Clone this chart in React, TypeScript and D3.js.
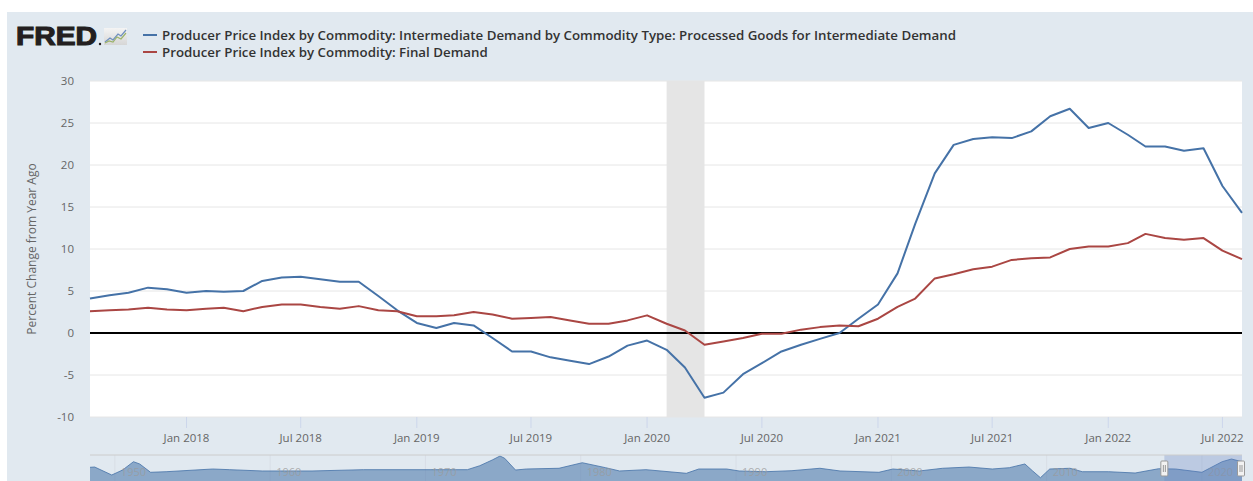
import React from "react";
import * as d3 from "d3";

// monthly observations, Aug 2017 .. Aug 2022
const startMonth = new Date(2017, 7, 1);
const endMonth = new Date(2022, 7, 1);
const months = d3.timeMonth.range(startMonth, d3.timeMonth.offset(endMonth, 1));

const intermediateGoods = [
  4.1, 4.5, 4.8, 5.4, 5.2,
  4.8, 5.0, 4.9, 5.0, 6.2, 6.6, 6.7, 6.4, 6.1, 6.1, 4.4, 2.7,
  1.2, 0.6, 1.2, 0.9, -0.6, -2.2, -2.2, -2.9, -3.3, -3.7, -2.8, -1.5,
  -0.9, -2.0, -4.1, -7.7, -7.1, -4.9, -3.6, -2.2, -1.4, -0.7, 0.0, 1.7,
  3.4, 7.1, 13.0, 19.0, 22.4, 23.1, 23.3, 23.2, 24.0, 25.8, 26.7, 24.4,
  25.0, 23.6, 22.2, 22.2, 21.7, 22.0, 17.5, 14.3,
];

const finalDemand = [
  2.6, 2.7, 2.8, 3.0, 2.8,
  2.7, 2.9, 3.0, 2.6, 3.1, 3.4, 3.4, 3.1, 2.9, 3.2, 2.7, 2.6,
  2.0, 2.0, 2.1, 2.5, 2.2, 1.7, 1.8, 1.9, 1.5, 1.1, 1.1, 1.5,
  2.1, 1.1, 0.3, -1.4, -1.0, -0.6, -0.1, -0.1, 0.4, 0.7, 0.9, 0.8,
  1.7, 3.1, 4.1, 6.5, 7.0, 7.6, 7.9, 8.7, 8.9, 9.0, 10.0, 10.3,
  10.3, 10.7, 11.8, 11.3, 11.1, 11.3, 9.8, 8.8,
];

const seriesNames = [
  "Producer Price Index by Commodity: Intermediate Demand by Commodity Type: Processed Goods for Intermediate Demand",
  "Producer Price Index by Commodity: Final Demand",
];
const seriesColors = ["#4572a7", "#aa4643"];

const yTicks = [-10, -5, 0, 5, 10, 15, 20, 25, 30];
const xTickDates = [
  new Date(2018, 0, 1), new Date(2018, 6, 1), new Date(2019, 0, 1), new Date(2019, 6, 1),
  new Date(2020, 0, 1), new Date(2020, 6, 1), new Date(2021, 0, 1), new Date(2021, 6, 1),
  new Date(2022, 0, 1), new Date(2022, 6, 1),
];
const xTickLabels = [
  "Jan 2018", "Jul 2018", "Jan 2019", "Jul 2019", "Jan 2020",
  "Jul 2020", "Jan 2021", "Jul 2021", "Jan 2022", "Jul 2022",
];
const recession = [new Date(2020, 1, 1), new Date(2020, 3, 1)];

// navigator: full history of the first series (rough read)
const navYears = [
  1948.4, 1948.7, 1949.8, 1950.5, 1951.2, 1951.6, 1952.3, 1953.3, 1956.3, 1957.4, 1959.5,
  1962.7, 1966.0, 1970.3, 1972.7, 1973.5, 1974.3, 1974.8, 1975.1, 1975.8, 1976.5, 1978.6,
  1980.1, 1981.6, 1982.5, 1984.2, 1986.8, 1987.6, 1989.4, 1990.2, 1991.9, 1993.6, 1995.4,
  1996.7, 1999.2, 2000.1, 2001.8, 2003.3, 2005.0, 2006.5, 2007.6, 2008.6, 2009.1, 2009.6,
  2010.2, 2011.5, 2012.3, 2014.0, 2015.7, 2017.2, 2018.3, 2020.0, 2021.3, 2021.9, 2022.58,
];
const navValues = [
  9.5, 10.1, -6.4, 3.9, 21.1, 16.4, -0.8, 0.4, 6.0, 4.6, 1.9,
  1.9, 4.6, 4.6, 4.6, 12.8, 24.6, 32.9, 28.2, 3.9, 6.0, 7.5,
  19.0, 8.7, 1.9, 4.6, -2.9, 6.0, 6.0, 1.9, 0.4, 2.5, 7.5,
  1.9, -0.8, 6.0, 1.9, 7.5, 10.1, 6.0, 8.7, 16.4, 1.9, -12.0,
  6.0, 7.5, 0.4, 0.4, -2.3, 6.5, 6.0, -0.8, 21.1, 26.7, 21.1,
];
const navDecades = [1950, 1960, 1970, 1980, 1990, 2000, 2010, 2020];

const W = 1253;
const H = 481;
const plot = { left: 90, right: 1242, top: 81, bottom: 417 };
const nav = { top: 455, bottom: 481 };
const font = "'Open Sans', 'DejaVu Sans', sans-serif";

export default function App() {
  const x = d3.scaleTime().domain([startMonth, endMonth]).range([plot.left, plot.right]);
  const y = d3.scaleLinear().domain([-10, 30]).range([plot.bottom, plot.top]);
  const navX = d3.scaleLinear().domain([1948.4, 2022.58]).range([plot.left, plot.right]);
  const navY = d3.scaleLinear().domain([-12, 26.7]).range([477.7, 459]);

  const line = d3
    .line<number>()
    .x((_, i) => x(months[i]))
    .y((v) => y(v));

  const navArea = d3
    .area<number>()
    .x((_, i) => navX(navYears[i]))
    .y0(nav.bottom + 20)
    .y1((v) => navY(v));
  const navLine = d3
    .line<number>()
    .x((_, i) => navX(navYears[i]))
    .y((v) => navY(v));

  const selStart = navX(2017.58);
  const selEnd = plot.right;

  return (
    <svg
      width={W}
      height={H}
      style={{ position: "absolute", left: 0, top: 0, display: "block" }}
      fontFamily={font}
    >
      <defs>
        <clipPath id="navClip">
          <rect x={plot.left} y={nav.top} width={plot.right - plot.left} height={nav.bottom - nav.top} />
        </clipPath>
        <linearGradient id="iconBg" x1="0" y1="0" x2="0" y2="1">
          <stop offset="0" stopColor="#f4f4f4" />
          <stop offset="1" stopColor="#d6d6d6" />
        </linearGradient>
      </defs>

      <rect x={0} y={0} width={W} height={H} fill="#ffffff" />
      <rect x={7} y={12} width={W - 7} height={H - 12} fill="#e1e9f0" />

      {/* logo */}
      <text
        x={16}
        y={45}
        fontFamily="'Liberation Sans', Arial, sans-serif"
        fontWeight={700}
        fontSize={26}
        fill="#231f20"
        stroke="#231f20"
        strokeWidth={1.1}
        textLength={81}
        lengthAdjust="spacingAndGlyphs"
      >
        FRED
      </text>
      <circle cx={100} cy={44} r={1.2} fill="#231f20" />
      <rect x={104} y={28} width={23} height={17} fill="url(#iconBg)" />
      <path d="M105,42 L110,38 L113,40 L118,34 L121,36 L126,30" fill="none" stroke="#6f8fbf" strokeWidth={1.2} />
      <path d="M105,43 L109,41 L113,42 L117,37 L121,39 L126,33" fill="none" stroke="#9bb36a" strokeWidth={1.2} />

      {/* legend */}
      {seriesNames.map((name, i) => (
        <g key={name}>
          <line x1={143} x2={157} y1={35 + i * 17} y2={35 + i * 17} stroke={seriesColors[i]} strokeWidth={2} />
          <text x={162} y={39.5 + i * 17} fontSize={13.3} fontWeight={600} fill="#333333">
            {name}
          </text>
        </g>
      ))}

      {/* plot area */}
      <rect x={plot.left} y={plot.top} width={plot.right - plot.left} height={plot.bottom - plot.top} fill="#ffffff" />
      {yTicks.map((t) => (
        <line key={t} x1={plot.left} x2={plot.right} y1={y(t)} y2={y(t)} stroke="#e6e6e6" strokeWidth={1} />
      ))}
      <rect
        x={x(recession[0])}
        y={plot.top}
        width={x(recession[1]) - x(recession[0])}
        height={plot.bottom - plot.top}
        fill="#e5e5e5"
      />
      <line x1={plot.left} x2={plot.right} y1={y(0)} y2={y(0)} stroke="#000000" strokeWidth={2} />

      {[intermediateGoods, finalDemand].map((s, i) => (
        <path key={i} d={line(s) || ""} fill="none" stroke={seriesColors[i]} strokeWidth={2} strokeLinejoin="round" />
      ))}

      {/* y axis */}
      {yTicks.map((t) => (
        <text key={t} x={74} y={y(t) + 4} textAnchor="end" fontSize={11.5} fill="#666666">
          {t}
        </text>
      ))}
      <text
        transform={`translate(36,${(plot.top + plot.bottom) / 2}) rotate(-90)`}
        textAnchor="middle"
        fontSize={12}
        fill="#666666"
      >
        Percent Change from Year Ago
      </text>

      {/* x axis */}
      {xTickDates.map((d, i) => (
        <g key={xTickLabels[i]}>
          <line x1={x(d)} x2={x(d)} y1={plot.bottom} y2={plot.bottom + 11} stroke="#ccd6eb" strokeWidth={1} />
          <text x={x(d)} y={442} textAnchor="middle" fontSize={11.5} fill="#666666">
            {xTickLabels[i]}
          </text>
        </g>
      ))}

      {/* navigator */}
      <g clipPath="url(#navClip)">
        {navDecades.map((yr) => (
          <line key={yr} x1={navX(yr)} x2={navX(yr)} y1={nav.top} y2={nav.bottom} stroke="#d8dee6" strokeWidth={1} />
        ))}
        <path d={navArea(navValues) || ""} fill="#4572a7" fillOpacity={0.55} />
        <path d={navLine(navValues) || ""} fill="none" stroke="#4572a7" strokeOpacity={0.8} strokeWidth={1} />
        {navDecades.map((yr) => (
          <text key={yr} x={navX(yr) + 6} y={476} fontSize={11} fill="#9a9a9a" fillOpacity={0.75}>
            {yr}
          </text>
        ))}
        <rect x={selStart} y={nav.top} width={selEnd - selStart} height={nav.bottom - nav.top} fill="#6685c2" fillOpacity={0.3} />
      </g>
      <line x1={plot.left} x2={plot.right} y1={nav.top} y2={nav.top} stroke="#cccccc" strokeWidth={1} />
      {[selStart, selEnd - 1].map((hx, i) => (
        <g key={i}>
          <rect x={hx - 3.5} y={461} width={7} height={15} rx={1} fill="#f2f2f2" stroke="#999999" strokeWidth={1} />
          <line x1={hx - 1} x2={hx - 1} y1={465} y2={472} stroke="#999999" strokeWidth={1} />
          <line x1={hx + 1} x2={hx + 1} y1={465} y2={472} stroke="#999999" strokeWidth={1} />
        </g>
      ))}
    </svg>
  );
}
